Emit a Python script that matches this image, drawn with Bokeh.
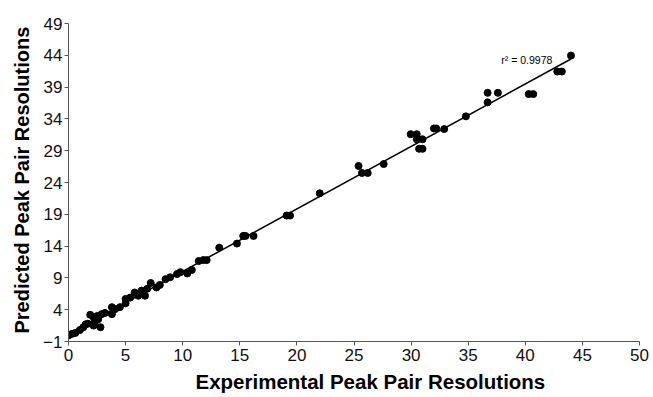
import numpy as np
from bokeh.plotting import figure
from bokeh.models import Range1d, FixedTicker, Label, Title
from bokeh.embed import file_html
from bokeh.resources import INLINE

# Experimental vs predicted peak pair resolutions
experimental = [0.0, 0.3, 0.6, 1.0, 1.3, 1.5, 1.7, 1.9, 2.2, 2.2, 2.3, 2.5, 2.6, 2.8, 2.9,
                3.2, 3.8, 3.8, 4.1, 4.5, 5.0, 5.0, 5.4, 5.8, 6.1, 6.4, 6.7, 6.9, 7.2,
                7.7, 8.0, 8.5, 8.9, 9.5, 9.8, 10.4, 10.8, 11.4, 11.8, 12.1, 13.2,
                14.75, 15.3, 15.5, 16.2, 19.1, 19.4, 22.0, 25.4, 25.7, 26.2, 27.6,
                29.96, 30.5, 30.5, 30.7, 31.0, 31.0, 32.0, 32.2, 32.9, 34.8,
                36.7, 36.7, 37.6, 40.3, 40.7, 42.8, 43.2, 44.0]
predicted = [-0.05, 0.2, 0.35, 0.8, 1.25, 1.7, 1.8, 3.2, 2.8, 1.5, 2.0, 3.0, 2.5, 1.25, 3.3,
             3.5, 4.4, 3.3, 4.1, 4.4, 5.7, 5.0, 5.9, 6.7, 6.2, 7.0, 6.2, 7.3, 8.2,
             7.5, 7.9, 8.8, 9.1, 9.6, 9.9, 9.7, 10.25, 11.65, 11.8, 11.8, 13.75,
             14.4, 15.6, 15.6, 15.6, 18.8, 18.8, 22.3, 26.6, 25.5, 25.5, 26.9,
             31.6, 31.6, 30.8, 29.3, 30.8, 29.3, 32.5, 32.5, 32.4, 34.4,
             38.1, 36.6, 38.1, 37.9, 37.9, 41.45, 41.45, 43.95]
x_ticks = [0, 5, 10, 15, 20, 25, 30, 35, 40, 45, 50]
y_ticks = [-1, 4, 9, 14, 19, 24, 29, 34, 39, 44, 49]
r2_text = "r² = 0.9978"
x_title = "Experimental Peak Pair Resolutions"
y_title = "Predicted Peak Pair Resolutions"

p = figure(width=653, height=397, output_backend="svg", toolbar_location=None,
           x_range=Range1d(0, 50), y_range=Range1d(-1, 49),
           min_border_left=68, min_border_right=14, min_border_top=23, min_border_bottom=54)
p.outline_line_color = None
p.xgrid.visible = False
p.ygrid.visible = False
p.background_fill_color = "white"
p.border_fill_color = "white"

# regression line
slope, intercept = np.polyfit(experimental, predicted, 1)
lx = [0.0, max(experimental)]
ly = [intercept + slope * v for v in lx]
p.line(lx, ly, line_color="black", line_width=1.5)

p.scatter(experimental, predicted, size=7, fill_color="black", line_color="black")

for ax in (p.xaxis[0], p.yaxis[0]):
    ax.axis_line_color = "#555555"
    ax.major_tick_line_color = "#555555"
    ax.minor_tick_line_color = None
    ax.major_tick_in = 0
    ax.major_tick_out = 4
    ax.major_label_text_font = "Liberation Sans"
    ax.major_label_text_font_size = "17px"
    ax.major_label_text_color = "#111111"

p.xaxis.ticker = FixedTicker(ticks=x_ticks)
p.yaxis.ticker = FixedTicker(ticks=y_ticks)
p.xaxis.major_label_standoff = 3
p.yaxis.major_label_standoff = 2

p.add_layout(Title(text=x_title, align="left", offset=127, standoff=9,
                   text_font="Liberation Sans", text_font_size="20.5px",
                   text_font_style="bold", text_color="black"), "below")
p.add_layout(Title(text=y_title, align="left", offset=8, standoff=15,
                   text_font="Liberation Sans", text_font_size="20px",
                   text_font_style="bold", text_color="black"), "left")

p.add_layout(Label(x=37.9, y=43.3, text=r2_text, text_font="Liberation Sans",
                   text_font_size="10.5px", text_color="black",
                   text_baseline="alphabetic", text_align="left"))

open("out.html", "w").write(file_html(p, INLINE))
